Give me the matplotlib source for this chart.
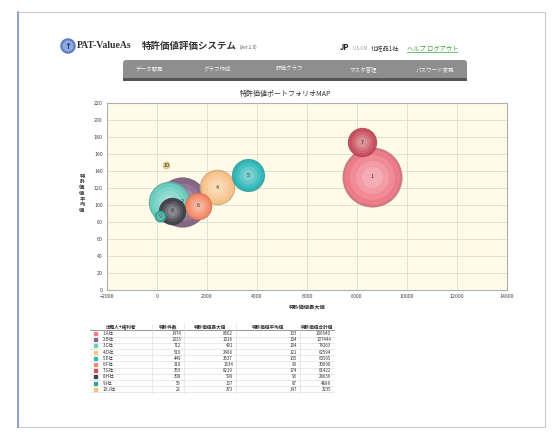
import numpy as np
import matplotlib
matplotlib.use('Agg')
import matplotlib.pyplot as plt
from matplotlib.patches import Rectangle, FancyBboxPatch, Circle
from matplotlib.colors import to_rgb

plt.rcParams['font.family'] = ['Noto Sans CJK JP', 'DejaVu Sans']

# data
companies = ['A社', 'B社', 'C社', 'D社', 'E社', 'F社', 'G社', 'H社', 'I社', 'J社']
counts = [1474, 1033, 712, 516, 449, 310, 353, 308, 56, 22]
max_vals = [8602, 1016, 491, 2408, 3637, 1634, 8219, 599, 137, 373]
avg_vals = [133, 104, 104, 121, 135, 99, 174, 93, 87, 147]
totals = [196640, 107444, 74263, 62594, 60595, 30690, 61422, 28636, 4888, 3235]
colors = ['#f07d8a', '#86688a', '#6fd0c2', '#f9c58c', '#2fb8b8',
          '#f68a68', '#c9505c', '#45444c', '#30a898', '#e8c47a']
table_cols = ['出願人+権利者', '特許件数', '特許価値最大値', '特許価値平均値', '特許価値合計値']
nav_items = ['データ閲覧', 'グラフ作成', '評価グラフ', 'マスタ管理', 'パスワード変更']

W, H = 553, 437
fig = plt.figure(figsize=(W / 100, H / 100), dpi=100)
fig.patch.set_facecolor('white')

# pixel overlay for the page
bg = fig.add_axes([0, 0, 1, 1])
bg.set_xlim(0, W)
bg.set_ylim(H, 0)
bg.axis('off')

bg.add_patch(Rectangle((18, 12), 527, 415, fill=False, ec='#c5ccd6', lw=0.8))
bg.plot([18, 18], [12, 427], color='#7f98c0', lw=1.2)

# header
bg.add_patch(Circle((68, 46), 7, color='#5a78c0'))
bg.add_patch(Circle((68, 46), 5, color='#8fa8e0'))
bg.text(68, 46.5, '↑', color='#203870', fontsize=6, ha='center', va='center', fontweight='bold',
        family='DejaVu Sans')
bg.text(77, 46, 'PAT-ValueAs', fontsize=7, fontweight='bold', family='Liberation Serif',
        va='center', color='#333333')
bg.text(142, 46, '特許価値評価システム', fontsize=6.8, fontweight='bold', va='center', color='#333333')
bg.text(240, 47.5, '(Ver.1.0)', fontsize=3.3, va='center', color='#555555')
bg.text(340, 48, 'JP', fontsize=5.5, fontweight='bold', va='center', color='#222222')
bg.text(353, 48, 'US CN', fontsize=3.5, va='center', color='#999999')
bg.text(371, 48, '化粧品1社', fontsize=4.5, va='center', color='#333333')
bg.text(407, 48, 'ヘルプ ログアウト', fontsize=4.5, va='center', color='#3aa040')
bg.plot([407, 457], [51.5, 51.5], color='#3aa040', lw=0.5)

# nav bar
bg.add_patch(FancyBboxPatch((123, 60), 344, 20, boxstyle='round,pad=0,rounding_size=3',
                            fc='#8e8e8e', ec='none'))
bg.add_patch(Rectangle((123, 78), 344, 2.5, fc='#555555', ec='none'))
for label, xc in zip(nav_items, [149, 217, 290, 363, 435]):
    bg.text(xc, 69, label, fontsize=4, ha='center', va='center', color='#f0f0f0')

# chart
bg.text(286, 94, '特許価値ポートフォリオMAP', fontsize=5, ha='center', va='center', color='#333333')
for k, ch in enumerate('特許価値平均値'):
    bg.text(82, 176 + k * 5.8, ch, fontsize=3.8, ha='center', va='center',
            color='#333333', fontweight='bold')
bg.text(307, 308, '特許価値最大値', fontsize=3.8, ha='center', va='center', color='#333333',
        fontweight='bold')

ax = fig.add_axes([107 / W, 1 - 290 / H, 400 / W, 187 / H])
ax.set_facecolor('#fefbe9')
ax.set_xlim(-2000, 14000)
ax.set_ylim(0, 220)
ax.set_xticks(np.arange(-2000, 14001, 2000))
ax.set_yticks(np.arange(0, 221, 20))
ax.grid(True, color='#dcdcd0', lw=0.6)
ax.set_axisbelow(True)
ax.tick_params(labelsize=3.8, length=0, pad=3, colors='#444444')
for s in ax.spines.values():
    s.set_color('#b0b0b0')
    s.set_linewidth(0.8)

# bubbles, biggest first
size_k = 1.266
order = np.argsort(counts)[::-1]
for i in order:
    base = np.array(to_rgb(colors[i]))
    s = counts[i] * size_k
    edge = base * 0.85
    ax.scatter(max_vals[i], avg_vals[i], s=s, color=edge, alpha=0.9, lw=0, zorder=3)
    for f, w in [(0.92, 0.0), (0.75, 0.12), (0.55, 0.25), (0.35, 0.38)]:
        c = base + (1 - base) * w
        ax.scatter(max_vals[i], avg_vals[i], s=s * f * f, color=c, alpha=0.9, lw=0, zorder=3)
    ax.text(max_vals[i], avg_vals[i], str(i + 1), fontsize=4, ha='center', va='center',
            color='#333333', zorder=4)

# table
col_x = [90, 152, 184, 236, 300, 334]
y0 = 327
row_h = 6.2
bg.plot([col_x[0], col_x[-1]], [y0 + 3, y0 + 3], color='#888888', lw=0.6)
for j, name in enumerate(table_cols):
    bg.text((col_x[j] + col_x[j + 1]) / 2, y0, name, fontsize=3.3, ha='center', va='center',
            color='#333333', fontweight='bold')
for k in range(len(companies)):
    y = y0 + 6.5 + k * row_h
    bg.add_patch(Rectangle((94, y - 1.6), 3.2, 3.2, color=colors[k]))
    bg.text(103, y, f'{k + 1}:{companies[k]}', fontsize=3.2, va='center', color='#333333')
    vals = [counts[k], max_vals[k], avg_vals[k], totals[k]]
    for j, v in enumerate(vals):
        bg.text(col_x[j + 2] - 3, y, str(v), fontsize=3.2, ha='right', va='center', color='#333333')
    bg.plot([col_x[0], col_x[-1]], [y + 3, y + 3], color='#d8d8d8', lw=0.4)
for xv in col_x[1:-1]:
    bg.plot([xv, xv], [y0 - 3, y0 + 3.5 + 10 * row_h], color='#d8d8d8', lw=0.4)

fig.savefig('out.png', dpi=100)
